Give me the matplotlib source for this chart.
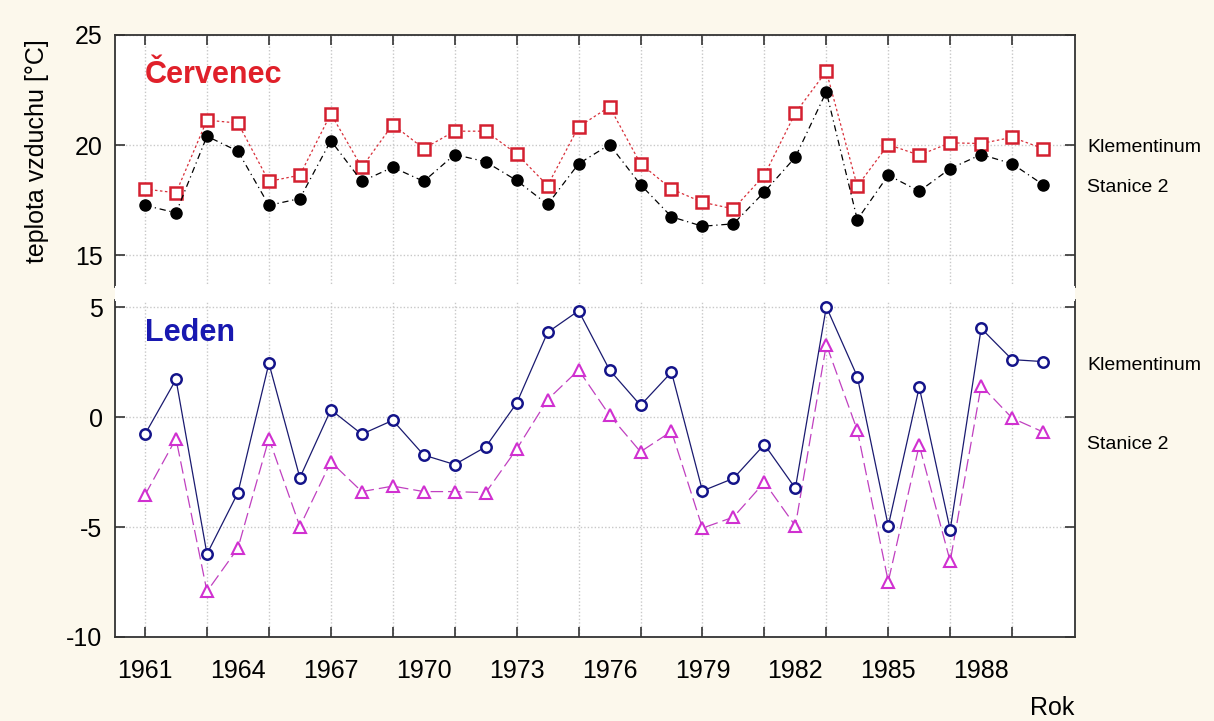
import matplotlib
matplotlib.use("Agg")
from matplotlib import pyplot as plt
from matplotlib.patches import Rectangle
import numpy as np

plt.rcParams['font.family'] = ['Liberation Sans', 'DejaVu Sans']
plt.rcParams['axes.unicode_minus'] = False

# roky 1961-1990
roky = np.arange(1961, 1991)

# Cervenec (July)
cerv_klem = [18.0, 17.83, 21.13, 21.0, 18.35, 18.63, 21.42, 18.99, 20.93, 19.84,
             20.63, 20.63, 19.6, 18.16, 20.83, 21.74, 19.15, 18.0, 17.4, 17.1,
             18.63, 21.46, 23.35, 18.13, 20.02, 19.54, 20.1, 20.07, 20.35, 19.84]
cerv_st2 = [17.26, 16.92, 20.4, 19.72, 17.26, 17.57, 20.2, 18.35, 18.99, 18.35,
            19.57, 19.24, 18.39, 17.3, 19.15, 20.02, 18.2, 16.74, 16.31, 16.42,
            17.87, 19.45, 22.42, 16.61, 18.63, 17.9, 18.93, 19.57, 19.15, 18.2]

# Leden (January)
leden_klem = [-0.78, 1.71, -6.23, -3.44, 2.44, -2.76, 0.33, -0.78, -0.15, -1.73,
              -2.16, -1.36, 0.63, 3.85, 4.83, 2.14, 0.53, 2.04, -3.36, -2.79,
              -1.25, -3.24, 5.01, 1.84, -4.95, 1.36, -5.13, 4.03, 2.61, 2.52]
leden_st2 = [-3.54, -0.98, -7.93, -5.96, -0.98, -4.98, -2.04, -3.39, -3.14, -3.39,
             -3.39, -3.44, -1.46, 0.79, 2.14, 0.08, -1.58, -0.65, -5.05, -4.55,
             -2.97, -4.95, 3.29, -0.6, -7.48, -1.28, -6.56, 1.43, -0.05, -0.68]

popisky_let = list(range(1961, 1991, 3))
ticky_let = list(range(1961, 1991, 2))

bg = '#fcf8ec'
W, H = 1214, 721
fig = plt.figure(figsize=(W / 100, H / 100), dpi=100, facecolor=bg)

left = 115 / W
width = (1075 - 115) / W
# bila mezera mezi panely
fig.patches.append(Rectangle((left, 1 - 301 / H), width, 15 / H,
                             transform=fig.transFigure, facecolor='white',
                             edgecolor='none', zorder=0))
ax1 = fig.add_axes([left, 1 - 287 / H, width, (287 - 35) / H])
ax2 = fig.add_axes([left, 1 - 637 / H, width, (637 - 300) / H])

for ax in (ax1, ax2):
    ax.set_facecolor('white')
    ax.set_xlim(1960.03, 1991.03)
    ax.set_xticks(ticky_let)
    ax.grid(True, color='#c8c8c8', linestyle=(0, (1, 1.5)), linewidth=1.0)
    ax.tick_params(which='major', direction='in', length=7, width=1.2,
                   labelsize=18, pad=9, right=True, top=True, color='#333333')
    for s in ax.spines.values():
        s.set_linewidth(1.3)
        s.set_color('#333333')

# horni panel - cervenec
ax1.set_ylim(13.55, 25)
ax1.set_yticks([15, 20, 25])
ax1.spines['bottom'].set_visible(False)
ax1.tick_params(bottom=False, labelbottom=False)
ax1.plot(roky, cerv_klem, color='#d8303a', linestyle=(0, (2, 2)), linewidth=0.9,
         marker='s', markersize=8.5, markerfacecolor='white',
         markeredgecolor='#d42030', markeredgewidth=1.8, zorder=3)
ax1.plot(roky, cerv_st2, color='black', linestyle=(0, (5, 3, 1, 3)), linewidth=0.9,
         marker='o', markersize=8, markerfacecolor='black',
         markeredgecolor='black', zorder=3)
ax1.text(1961, 23.2, 'Červenec', color='#e0202a', fontsize=22, fontweight='bold',
         ha='left', va='center')

# dolni panel - leden
ax2.set_ylim(-10, 5.32)
ax2.set_yticks([-10, -5, 0, 5])
ax2.spines['top'].set_visible(False)
ax2.tick_params(top=False)
ax2.plot(roky, leden_klem, color='#1a1a70', linestyle='-', linewidth=0.9,
         marker='o', markersize=7.5, markerfacecolor='white',
         markeredgecolor='#14148a', markeredgewidth=1.8, zorder=3)
ax2.plot(roky, leden_st2, color='#c040c0', linestyle=(0, (10, 4)), linewidth=0.9,
         marker='^', markersize=8.5, markerfacecolor='white',
         markeredgecolor='#d030d0', markeredgewidth=1.5, zorder=2)
ax2.text(1961, 3.8, 'Leden', color='#1818b0', fontsize=22, fontweight='bold',
         ha='left', va='center')

# popisky let jsou jinde nez ticky
ax2.xaxis.remove_overlapping_locs = False
ax2.set_xticks(popisky_let, minor=True)
ax2.set_xticklabels([str(r) for r in popisky_let], minor=True)
ax2.tick_params(which='major', labelbottom=False)
ax2.tick_params(which='minor', length=0, labelsize=18, pad=16)

# popisky stanic vpravo
fig.text(1087 / W, 1 - 148 / H, 'Klementinum', fontsize=14, va='center', ha='left')
fig.text(1087 / W, 1 - 188 / H, 'Stanice 2', fontsize=14, va='center', ha='left')
fig.text(1087 / W, 1 - 365 / H, 'Klementinum', fontsize=14, va='center', ha='left')
fig.text(1087 / W, 1 - 445 / H, 'Stanice 2', fontsize=14, va='center', ha='left')

fig.text(37 / W, 1 - 151 / H, 'teplota vzduchu [°C]', fontsize=18, rotation=90,
         va='center', ha='center')
fig.text(1052 / W, 1 - 708 / H, 'Rok', fontsize=18, va='center', ha='center')

fig.savefig('out.png', dpi=100, facecolor=bg)
